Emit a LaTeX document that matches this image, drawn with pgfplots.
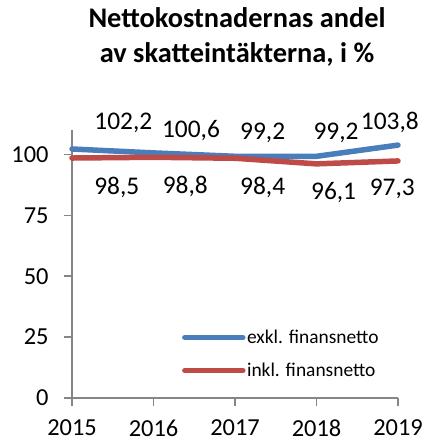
\documentclass[border=0pt]{standalone}
\usepackage{fontspec}
\setmainfont{Carlito}
\usepackage{pgfplots}
\pgfplotsset{compat=1.18}
\definecolor{exkl}{HTML}{4A7EBB}
\definecolor{inkl}{HTML}{BE4B48}
\definecolor{axgray}{HTML}{868686}
\begin{document}
\begin{tikzpicture}[x=1bp,y=1bp]
\useasboundingbox (-72bp,-45bp) rectangle (354bp,398bp);
\begin{axis}[
  at={(0bp,0bp)}, anchor=south west,
  scale only axis, width=326bp, height=268bp,
  xmin=2015, xmax=2019, ymin=0, ymax=110,
  axis lines=left,
  axis line style={axgray, line width=1.5bp, -},
  xtick={2015,2016,2017,2018,2019},
  xticklabels={2015,2016,2017,2018,2019},
  ytick={0,25,50,75,100},
  tick align=outside, major tick length=8bp,
  tick style={axgray, line width=1.5bp},
  ticklabel style={font=\fontsize{24.5}{24.5}\selectfont},
  xticklabel style={yshift=-10bp},
  yticklabel style={xshift=-12bp},
  /pgf/number format/assume math mode=true,
  clip=false,
  legend style={draw=none, fill=none, at={(0.337,0.164)}, anchor=west,
    font=\fontsize{19.5}{19.5}\selectfont, inner sep=0pt, row sep=15bp,
    nodes={inner sep=1.5bp}},
  legend cell align=left,
  legend image code/.code={\draw[#1, line width=5.5bp, line cap=round] (0bp,0bp) -- (58bp,0bp);},
]
\addplot[exkl, line width=5.5bp, line cap=round] coordinates {
  (2015,102.2) (2016,100.6) (2017,99.2) (2018,99.2) (2019,103.8)};
\addlegendentry{exkl. finansnetto}
\addplot[inkl, line width=5.5bp, line cap=round] coordinates {
  (2015,98.5) (2016,98.8) (2017,98.4) (2018,96.1) (2019,97.3)};
\addlegendentry{inkl. finansnetto}
\begin{scope}[every node/.style={font=\fontsize{25.5}{25.5}\selectfont}]
\node at (axis cs:2015.63,113.1) {102,2};
\node at (axis cs:2016.46,109.8) {100,6};
\node at (axis cs:2017.34,109.0) {99,2};
\node at (axis cs:2018.24,109.0) {99,2};
\node at (axis cs:2018.90,113.1) {103,8};
\node at (axis cs:2015.55,86.5) {98,5};
\node at (axis cs:2016.39,86.8) {98,8};
\node at (axis cs:2017.34,86.5) {98,4};
\node at (axis cs:2018.21,84.4) {96,1};
\node at (axis cs:2018.93,85.7) {97,3};
\end{scope}
\end{axis}
\node[font=\bfseries\fontsize{28.5}{35}\selectfont, align=center] at (165bp,361bp)
  {Nettokostnadernas andel\\av skatteintäkterna, i \%};
\end{tikzpicture}
\end{document}
